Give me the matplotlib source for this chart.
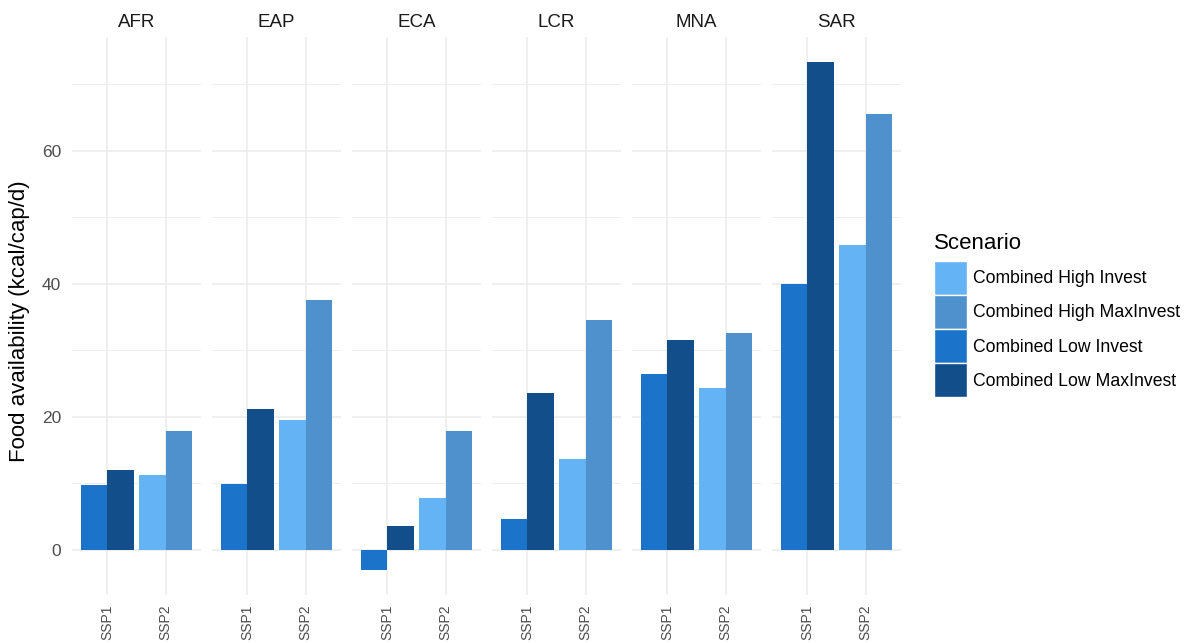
import matplotlib
matplotlib.use('Agg')
import matplotlib.pyplot as plt
from matplotlib.patches import Patch
import numpy as np

plt.rcParams['font.family'] = ['Liberation Sans', 'DejaVu Sans']

regions = ['AFR', 'EAP', 'ECA', 'LCR', 'MNA', 'SAR']
ssp_labels = ['SSP1', 'SSP2']
scenarios = ['Combined High Invest', 'Combined High MaxInvest',
             'Combined Low Invest', 'Combined Low MaxInvest']
# SSP1 carries the "Low" scenarios, SSP2 the "High" ones
low_invest = [9.7, 9.9, -3.0, 4.6, 26.4, 40.0]
low_maxinvest = [12.0, 21.2, 3.6, 23.5, 31.5, 73.3]
high_invest = [11.2, 19.5, 7.7, 13.7, 24.3, 45.8]
high_maxinvest = [17.8, 37.6, 17.8, 34.5, 32.6, 65.5]

colors = {
    'Combined High Invest': '#63b3f5',
    'Combined High MaxInvest': '#4e91cd',
    'Combined Low Invest': '#1b74c9',
    'Combined Low MaxInvest': '#124e89',
}

W, H = 1191, 643
fig = plt.figure(figsize=(W / 100, H / 100), dpi=100)

all_vals = low_invest + low_maxinvest + high_invest + high_maxinvest
lo, hi = min(min(all_vals), 0), max(all_vals)
pad = 0.05 * (hi - lo)
ylim = (lo - pad, hi + pad)

panel_left, panel_w, panel_gap = 72, 129, 11
panel_top, panel_bot = 37, 595
bw = 0.45
grid_c = '#ebebeb'

for i, reg in enumerate(regions):
    x0 = panel_left + i * (panel_w + panel_gap)
    ax = fig.add_axes([x0 / W, 1 - panel_bot / H, panel_w / W, (panel_bot - panel_top) / H])
    ax.set_xlim(0.4, 2.6)
    ax.set_ylim(*ylim)
    for s in ax.spines.values():
        s.set_visible(False)
    ax.set_axisbelow(True)
    ax.set_yticks([0, 20, 40, 60])
    ax.set_yticks([10, 30, 50, 70], minor=True)
    ax.set_xticks([1, 2])
    ax.grid(True, which='major', color=grid_c, linewidth=1.1)
    ax.grid(True, which='minor', axis='y', color=grid_c, linewidth=0.6)
    ax.tick_params(which='both', length=0)
    ax.set_xticklabels(ssp_labels, rotation=90, fontsize=10, color='#4d4d4d', va='top')
    ax.tick_params(axis='x', pad=7)
    if i == 0:
        ax.set_yticklabels(['0', '20', '40', '60'], fontsize=12.5, color='#4d4d4d')
        ax.tick_params(axis='y', pad=8)
    else:
        ax.set_yticklabels([])

    ax.bar(1 - bw / 2, low_invest[i], bw, color=colors['Combined Low Invest'], linewidth=0)
    ax.bar(1 + bw / 2, low_maxinvest[i], bw, color=colors['Combined Low MaxInvest'], linewidth=0)
    ax.bar(2 - bw / 2, high_invest[i], bw, color=colors['Combined High Invest'], linewidth=0)
    ax.bar(2 + bw / 2, high_maxinvest[i], bw, color=colors['Combined High MaxInvest'], linewidth=0)

    ax.set_title(reg, fontsize=13.5, color='#1a1a1a', pad=7.2)

fig.text(20 / W, 1 - 321 / H, 'Food availability (kcal/cap/d)', rotation=90,
         ha='center', va='center', fontsize=16, color='black')

handles = [Patch(facecolor=colors[s], edgecolor='white', linewidth=1) for s in scenarios]
leg = fig.legend(handles, scenarios, loc='upper left', bbox_to_anchor=(934 / W, 1 - 233 / H),
                 frameon=False, title='Scenario', fontsize=12.7, title_fontsize=16,
                 handlelength=1.85, handleheight=2.6, labelspacing=0.0,
                 handletextpad=0.35, borderaxespad=0, borderpad=0)
leg._legend_box.align = 'left'
leg._legend_box.sep = 5

fig.savefig('out.png', dpi=100)
